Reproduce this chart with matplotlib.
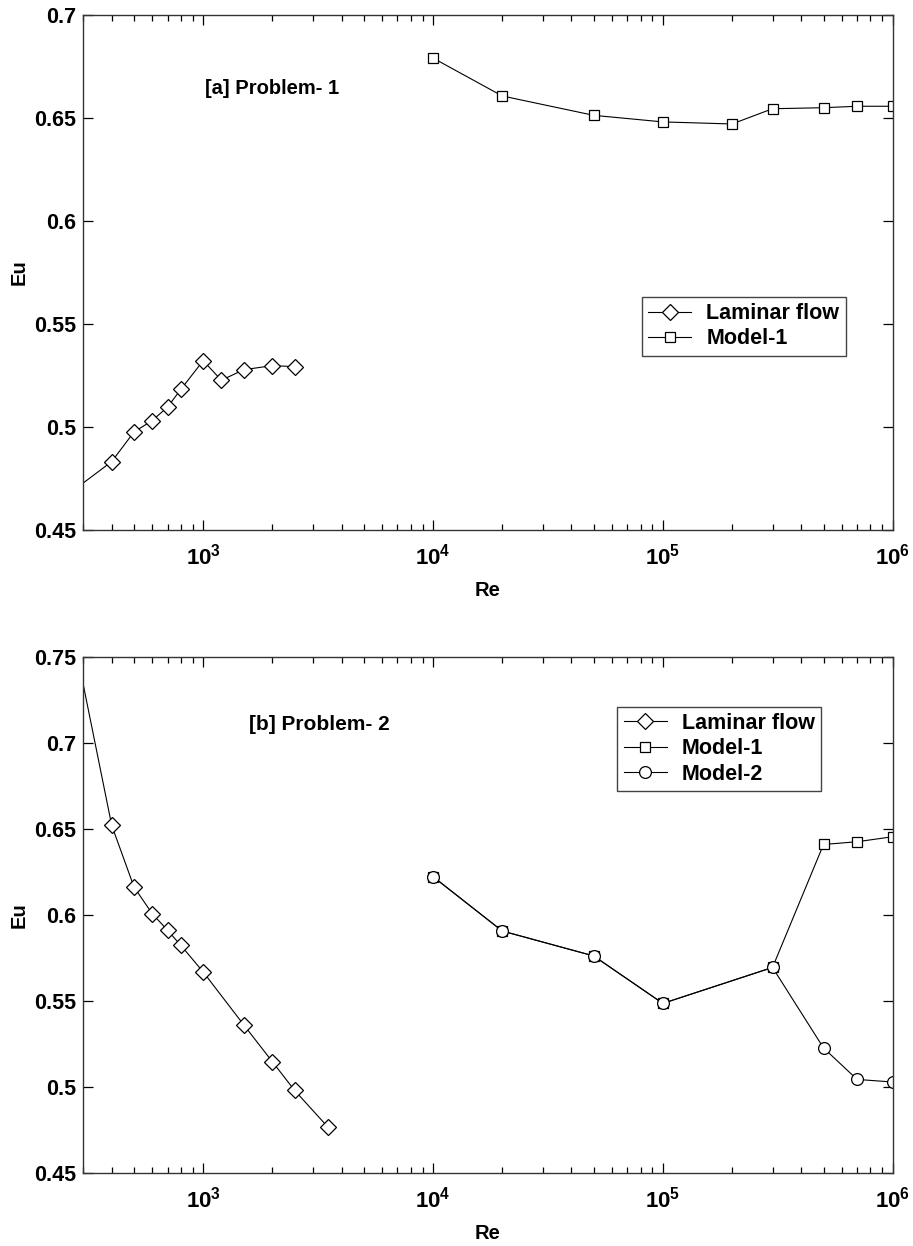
import matplotlib
matplotlib.use("Agg")
import matplotlib.pyplot as plt
from matplotlib.ticker import LogLocator, NullFormatter, FixedLocator, FixedFormatter

plt.rcParams['font.family'] = ['Liberation Sans', 'DejaVu Sans']
plt.rcParams['font.weight'] = 'bold'
plt.rcParams['mathtext.fontset'] = 'custom'
plt.rcParams['mathtext.rm'] = 'Liberation Sans:bold'
plt.rcParams['mathtext.bf'] = 'Liberation Sans:bold'
plt.rcParams['mathtext.default'] = 'bf'

# ---------------- data ----------------
# Panel (a) Problem-1
re_lam_a = [200, 400, 500, 600, 700, 800, 1000, 1200, 1500, 2000, 2500]
eu_lam_a = [0.458, 0.4832, 0.4976, 0.5031, 0.5097, 0.5183, 0.5322, 0.5227, 0.5278, 0.5298, 0.5293]
re_m1_a = [1e4, 2e4, 5e4, 1e5, 2e5, 3e5, 5e5, 7e5, 1e6]
eu_m1_a = [0.6791, 0.6607, 0.6513, 0.6481, 0.6471, 0.6545, 0.6550, 0.6557, 0.6557]

# Panel (b) Problem-2
re_lam_b = [200, 400, 500, 600, 700, 800, 1000, 1500, 2000, 2500, 3500]
eu_lam_b = [0.851, 0.6521, 0.6163, 0.6008, 0.5911, 0.5823, 0.5669, 0.5362, 0.5147, 0.4980, 0.4765]
re_m_b = [1e4, 2e4, 5e4, 1e5, 3e5, 5e5, 7e5, 1e6]
eu_m1_b = [0.6223, 0.5907, 0.5762, 0.5486, 0.5695, 0.6410, 0.6426, 0.6455]
eu_m2_b = [0.6223, 0.5907, 0.5762, 0.5486, 0.5695, 0.5227, 0.5044, 0.5029]

xticks = [1e3, 1e4, 1e5, 1e6]
xticklabels = [r'$10^{3}$', r'$10^{4}$', r'$10^{5}$', r'$10^{6}$']
yticks_a = [0.45, 0.5, 0.55, 0.6, 0.65, 0.7]
yticks_b = [0.45, 0.5, 0.55, 0.6, 0.65, 0.7, 0.75]
ytl_a = ['0.45', '0.5', '0.55', '0.6', '0.65', '0.7']
ytl_b = ['0.45', '0.5', '0.55', '0.6', '0.65', '0.7', '0.75']

W, H = 913, 1246
fig = plt.figure(figsize=(W / 100, H / 100), dpi=100)

left = 83 / W
width = (892.7 - 83) / W
ax1 = fig.add_axes([left, (H - 530) / H, width, 515 / H])
ax2 = fig.add_axes([left, (H - 1173) / H, width, 516 / H])

line_kw = dict(color='black', lw=0.8, mfc='white', mec='black', mew=0.9)

ax1.plot(re_lam_a, eu_lam_a, marker='D', ms=8.5, label='Laminar flow', **line_kw)
ax1.plot(re_m1_a, eu_m1_a, marker='s', ms=6.5, label='Model-1', **line_kw)

ax2.plot(re_lam_b, eu_lam_b, marker='D', ms=8.5, label='Laminar flow', **line_kw)
ax2.plot(re_m_b, eu_m1_b, marker='s', ms=6.5, label='Model-1', **line_kw)
ax2.plot(re_m_b, eu_m2_b, marker='o', ms=8.5, label='Model-2', **line_kw)

for ax, yt, ytl, ylim in [(ax1, yticks_a, ytl_a, (0.45, 0.7)),
                          (ax2, yticks_b, ytl_b, (0.45, 0.75))]:
    ax.set_xscale('log')
    ax.set_xlim(300, 1e6)
    ax.set_ylim(*ylim)
    ax.xaxis.set_major_locator(FixedLocator(xticks))
    ax.xaxis.set_major_formatter(FixedFormatter(xticklabels))
    ax.xaxis.set_minor_locator(LogLocator(base=10, subs=range(2, 10), numticks=20))
    ax.xaxis.set_minor_formatter(NullFormatter())
    ax.set_yticks(yt)
    ax.set_yticklabels(ytl)
    ax.tick_params(which='both', direction='in', top=True, right=True, colors='black',
                   width=0.9)
    ax.tick_params(which='major', length=7)
    ax.tick_params(which='minor', length=4)
    ax.tick_params(axis='y', which='major', pad=5, labelsize=15.5)
    ax.tick_params(axis='x', which='major', pad=10, labelsize=16)
    for sp in ax.spines.values():
        sp.set_linewidth(1.0)
        sp.set_color('#333333')
    ax.set_xlabel('Re', fontsize=14.5, fontweight='bold', labelpad=8)
    ax.set_ylabel('Eu', fontsize=14.5, fontweight='bold', labelpad=4)

ax1.text(0.151, 0.858, '[a] Problem- 1', transform=ax1.transAxes, fontsize=14.5,
         fontweight='bold', va='center', ha='left')
ax2.text(0.205, 0.870, '[b] Problem- 2', transform=ax2.transAxes, fontsize=15,
         fontweight='bold', va='center', ha='left')

leg_kw = dict(loc='upper left', fancybox=False, framealpha=1, edgecolor='#444444',
              fontsize=15.5, handlelength=2.0, handletextpad=0.7, labelspacing=0.2,
              borderpad=0.3, borderaxespad=0)
l1 = ax1.legend(bbox_to_anchor=(0.690, 0.453), **leg_kw)
l2 = ax2.legend(bbox_to_anchor=(0.660, 0.904), **leg_kw)
for l in (l1, l2):
    l.get_frame().set_linewidth(1.0)
    for t in l.get_texts():
        t.set_fontweight('bold')

fig.savefig('out.png', dpi=100)
